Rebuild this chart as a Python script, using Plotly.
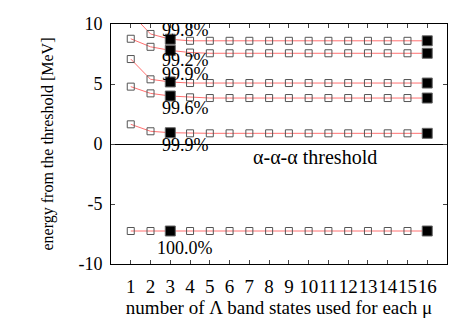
import plotly.graph_objects as go

n_states = list(range(1, 17))
series = [
    [10.9, 9.17, 8.73] + [8.6] * 13,
    [8.77, 8.1, 7.8, 7.62] + [7.56] * 12,
    [7.08, 5.39, 5.17] + [5.08] * 13,
    [4.78, 4.22, 4.0, 3.89] + [3.83] * 12,
    [1.64, 1.06, 0.94] + [0.89] * 13,
    [-7.25] * 16,
]
filled_at = [3, 16]
pct_labels = ["99.8%", "99.2%", "99.9%", "99.6%", "99.9%", "100.0%"]
pct_x = [3.75] * 6
pct_y = [9.5, 7.0, 5.83, 3.0, -0.08, -8.64]
threshold_label = "α-α-α threshold"
threshold_pos = (10.3, -1.08)

FONT = "Liberation Serif"
fig = go.Figure()
for ys in series:
    fig.add_trace(go.Scatter(
        x=n_states, y=ys, mode="lines+markers",
        line=dict(color="#ff7070", width=1),
        marker=dict(symbol="square-open", color="#555555", size=7,
                    line=dict(width=1, color="#555555")),
        showlegend=False,
    ))
for ys in series:
    fx = [x for x in n_states if x in filled_at]
    fy = [y for x, y in zip(n_states, ys) if x in filled_at]
    fig.add_trace(go.Scatter(
        x=fx, y=fy, mode="markers",
        marker=dict(symbol="square", color="black", size=10,
                    line=dict(width=1, color="#666666")),
        showlegend=False,
    ))

for t, x, y in zip(pct_labels, pct_x, pct_y):
    fig.add_annotation(x=x, y=y, text=t, showarrow=False,
                       font=dict(family=FONT, size=18, color="black"))
fig.add_annotation(x=threshold_pos[0], y=threshold_pos[1], text=threshold_label,
                   showarrow=False, font=dict(family=FONT, size=20, color="black"))

fig.update_layout(
    width=469, height=328,
    margin=dict(l=103, r=30, t=16, b=72),
    plot_bgcolor="white", paper_bgcolor="white",
    font=dict(family=FONT, size=17, color="black"),
    xaxis=dict(range=[0, 17], tickvals=n_states, ticks="inside", ticklen=4,
               showgrid=False, zeroline=False, showline=True, linecolor="black",
               mirror="ticks", automargin=False, ticklabelstandoff=5, tickangle=0,
               tickfont=dict(family=FONT, size=19, color="black"),
               title=dict(text="number of Λ band states used for each μ", standoff=2,
                          font=dict(family=FONT, size=19, color="black"))),
    yaxis=dict(range=[-10, 10], tickvals=[-10, -5, 0, 5, 10],
               ticktext=["-10", "-5", "0", "5", "10"], ticks="inside", ticklen=4,
               showgrid=False, zeroline=True, zerolinecolor="black", zerolinewidth=1,
               showline=True, linecolor="black", mirror="ticks", automargin=False,
               ticklabelstandoff=4,
               tickfont=dict(family=FONT, size=18, color="black"),
               title=dict(text="energy from the threshold [MeV]", standoff=20,
                          font=dict(family=FONT, size=16, color="black"))),
)
fig.write_html("out.html")
